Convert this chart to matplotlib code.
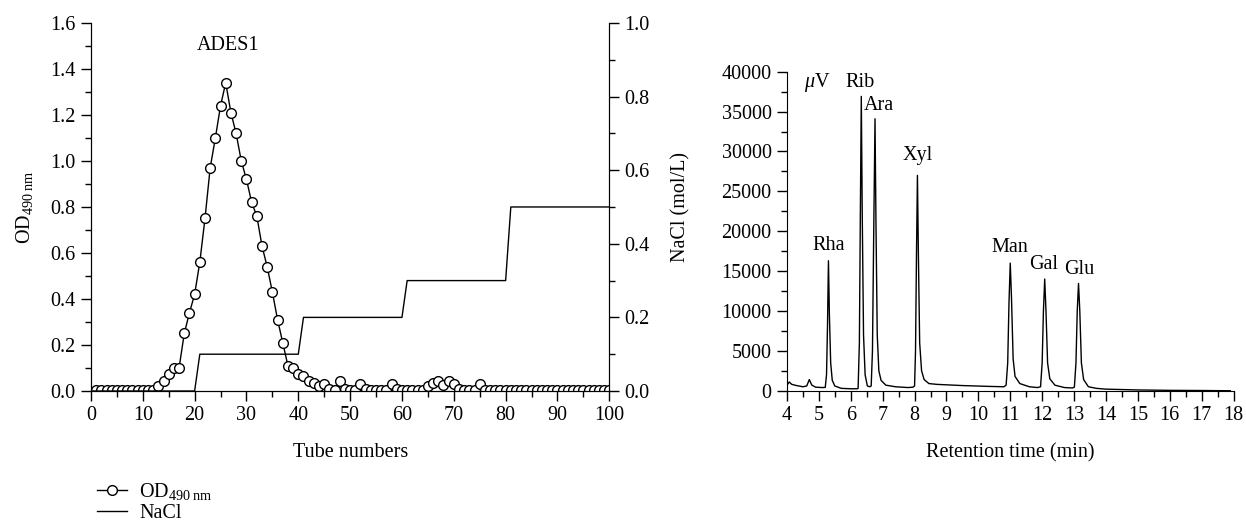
import numpy as np
import matplotlib
matplotlib.use('Agg')
import matplotlib.pyplot as plt
from matplotlib.ticker import MultipleLocator

plt.rcParams['font.family'] = 'Liberation Serif'
plt.rcParams['mathtext.fontset'] = 'custom'
plt.rcParams['mathtext.rm'] = 'Liberation Serif'
plt.rcParams['mathtext.it'] = 'Liberation Serif:italic'
plt.rcParams['font.size'] = 14.5

# --- elution profile (DEAE column) ---
tubo = list(range(1, 101))
od490 = [0.005, 0.005, 0.005, 0.005, 0.005, 0.005, 0.005, 0.005, 0.005, 0.005,
         0.005, 0.005, 0.02, 0.045, 0.075, 0.10, 0.10, 0.25, 0.34, 0.42,
         0.56, 0.75, 0.97, 1.10, 1.24, 1.34, 1.21, 1.12, 1.00, 0.92,
         0.82, 0.76, 0.63, 0.54, 0.43, 0.31, 0.21, 0.11, 0.10, 0.075,
         0.065, 0.045, 0.035, 0.02, 0.03, 0.01, 0.005, 0.045, 0.01, 0.005,
         0.005, 0.03, 0.01, 0.005, 0.005, 0.005, 0.005, 0.03, 0.01, 0.005,
         0.005, 0.005, 0.005, 0.005, 0.02, 0.035, 0.045, 0.025, 0.045, 0.03,
         0.01, 0.005, 0.005, 0.005, 0.03, 0.005, 0.005, 0.005, 0.005, 0.005,
         0.005, 0.005, 0.005, 0.005, 0.005, 0.005, 0.005, 0.005, 0.005, 0.005,
         0.005, 0.005, 0.005, 0.005, 0.005, 0.005, 0.005, 0.005, 0.005, 0.005]

tubo_nacl = [0, 20, 21, 40, 41, 60, 61, 80, 81, 100]
nacl = [0, 0, 0.1, 0.1, 0.2, 0.2, 0.3, 0.3, 0.5, 0.5]

# --- cromatograma de monosacaridos ---
t_min = [4.0, 4.07, 4.15, 4.3, 4.5, 4.62, 4.7, 4.78, 4.9, 5.1, 5.2,
         5.24, 5.27, 5.30, 5.33, 5.37, 5.42, 5.5, 5.7, 6.0, 6.2,
         6.23, 6.27, 6.30, 6.33, 6.36, 6.40, 6.45, 6.52, 6.6,
         6.64, 6.68, 6.72, 6.76, 6.79, 6.83, 6.88, 6.95, 7.1, 7.4, 7.8, 7.95,
         8.0, 8.03, 8.06, 8.09, 8.12, 8.16, 8.22, 8.3, 8.45, 8.7, 9.5, 10.3, 10.8,
         10.87, 10.92, 10.96, 11.0, 11.04, 11.09, 11.15, 11.3, 11.6, 11.85,
         11.95, 12.0, 12.04, 12.08, 12.12, 12.17, 12.24, 12.4, 12.7, 12.95,
         13.01, 13.06, 13.10, 13.14, 13.18, 13.23, 13.3, 13.45, 13.7, 14.0,
         14.5, 15.0, 16.0, 17.0, 17.9]
senal = [700, 1100, 800, 650, 500, 600, 1400, 700, 450, 400, 420,
         2000, 8000, 16300, 9500, 3500, 1300, 600, 300, 250, 250,
         300, 6000, 22000, 36900, 22000, 7000, 2000, 600, 500,
         600, 5000, 20000, 34100, 21000, 7000, 2500, 1300, 700, 500, 400, 450,
         600, 5000, 17000, 27000, 17000, 6000, 2500, 1400, 900, 800, 650, 550, 500,
         700, 3500, 11000, 16000, 11500, 4000, 1800, 900, 500, 400,
         500, 3500, 10000, 14000, 10000, 3500, 1500, 700, 400, 350,
         450, 3500, 10000, 13450, 10000, 3500, 1400, 500, 300, 200,
         150, 100, 50, 30, 0]

azucares = ['Rha', 'Rib', 'Ara', 'Xyl', 'Man', 'Gal', 'Glu']
pos_x = [5.3, 6.3, 6.88, 8.09, 11.0, 12.05, 13.16]
pos_y = [18250, 38600, 35800, 29550, 17900, 15770, 15230]

fig = plt.figure(figsize=(12.46, 5.21), dpi=100)

# panel izquierdo
ax1 = fig.add_axes([0.073, 0.2495, 0.416, 0.7065])
ax2 = ax1.twinx()

l1, = ax1.plot(tubo, od490, '-o', color='k', lw=1.0, ms=7, mfc='white',
               mec='k', mew=1.0, label=r'OD$_{490\ \mathrm{nm}}$')
l2, = ax2.plot(tubo_nacl, nacl, '-', color='k', lw=1.0, label='NaCl')

ax1.set_xlim(0, 100)
ax1.set_ylim(0, 1.6)
ax2.set_ylim(0, 1.0)
ax1.xaxis.set_major_locator(MultipleLocator(10))
ax1.xaxis.set_minor_locator(MultipleLocator(5))
ax1.yaxis.set_major_locator(MultipleLocator(0.2))
ax1.yaxis.set_minor_locator(MultipleLocator(0.1))
ax2.yaxis.set_major_locator(MultipleLocator(0.2))
ax2.yaxis.set_minor_locator(MultipleLocator(0.1))
ax1.yaxis.set_major_formatter(plt.FormatStrFormatter('%.1f'))
ax2.yaxis.set_major_formatter(plt.FormatStrFormatter('%.1f'))

for a in (ax1, ax2):
    a.spines['top'].set_visible(False)
    a.tick_params(which='major', direction='out', length=7, width=1, pad=4)
    a.tick_params(which='minor', direction='out', length=4, width=1)

ax1.set_xlabel('Tube numbers')
ax1.xaxis.set_label_coords(0.5, -0.14)
ax1.set_ylabel(r'OD$_{490\ \mathrm{nm}}$')
ax1.yaxis.set_label_coords(-0.107, 0.5)
ax2.set_ylabel('NaCl (mol/L)')
ax2.yaxis.set_label_coords(1.12, 0.5)
ax1.text(26.5, 1.5, 'ADES1', ha='center', va='center')

fig.legend(handles=[l1, l2], loc='upper left', bbox_to_anchor=(0.078, 0.077),
           frameon=False, handlelength=1.5, handletextpad=0.6,
           borderaxespad=0, borderpad=0, labelspacing=0.1)

# panel derecho
ax3 = fig.add_axes([0.6316, 0.250, 0.3584, 0.6124])
ax3.plot(t_min, senal, color='k', lw=1.0)
ax3.set_xlim(4, 18)
ax3.set_ylim(0, 40000)
ax3.xaxis.set_major_locator(MultipleLocator(1))
ax3.xaxis.set_minor_locator(MultipleLocator(0.5))
ax3.yaxis.set_major_locator(MultipleLocator(5000))
ax3.yaxis.set_minor_locator(MultipleLocator(2500))
ax3.spines['top'].set_visible(False)
ax3.spines['right'].set_visible(False)
ax3.tick_params(which='major', direction='out', length=7, width=1, pad=4)
ax3.tick_params(which='minor', direction='out', length=4, width=1)
ax3.set_xlabel('Retention time (min)')
ax3.xaxis.set_label_coords(0.5, -0.165)
ax3.text(4.95, 38600, r'$\mu$V', ha='center', va='center')

for nom, xx, yy in zip(azucares, pos_x, pos_y):
    ax3.text(xx, yy, nom, ha='center', va='center')

fig.savefig('out.png', dpi=100)
